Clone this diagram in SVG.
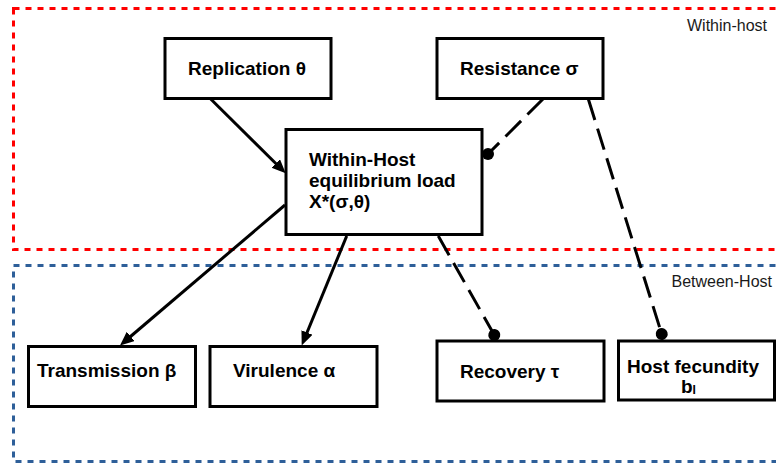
<svg xmlns="http://www.w3.org/2000/svg" width="776" height="463" viewBox="0 0 776 463">
<defs>
<style>
.zone{fill:none;stroke-width:3;stroke-dasharray:6,6}
.box{fill:#fff;stroke:#000;stroke-width:3}
.t{font-family:"Liberation Sans",Arial,sans-serif;font-weight:bold;font-size:19px;fill:#000}
.lbl{font-family:"Liberation Sans",Arial,sans-serif;font-size:16px;fill:#1a1a1a}
.solid{stroke:#000;stroke-width:3;fill:none;marker-end:url(#arrow)}
.dash{stroke:#000;stroke-width:3;fill:none;stroke-dasharray:22,9;marker-end:url(#dot)}
</style>
<marker id="arrow" markerUnits="userSpaceOnUse" markerWidth="16" markerHeight="14" refX="4" refY="6" orient="auto">
<path d="M0,0 L14,6 L0,12 Z" fill="#000"/>
</marker>
<marker id="dot" markerUnits="userSpaceOnUse" markerWidth="14" markerHeight="14" refX="7" refY="7" orient="auto">
<circle cx="7" cy="7" r="6" fill="#000"/>
</marker>
</defs>
<g id="zones">
<rect class="zone" x="13.5" y="8.5" width="800" height="241" stroke="#ff0000"/>
<text class="lbl" x="767" y="31" text-anchor="end">Within-host</text>
<rect class="zone" x="13.5" y="265.5" width="800" height="196" stroke="#2e5f99"/>
<text class="lbl" x="772" y="287" text-anchor="end">Between-Host</text>
</g>
<g id="connectors">
<path class="solid" d="M210.7,99 L278.6,166.3"/>
<path class="solid" d="M285,205 L127.6,339"/>
<path class="solid" d="M346.7,236 L305.5,336.2"/>
<path class="dash" d="M543,99 L488,154"/>
<path class="dash" d="M438.3,236 L494.3,335"/>
<path class="dash" d="M588.3,99 L661.7,334"/>
</g>
<g id="replication">
<rect class="box" x="165" y="38.5" width="166" height="60"/>
<text class="t" x="188" y="75">Replication θ</text>
</g>
<g id="resistance">
<rect class="box" x="437" y="38.5" width="166" height="60"/>
<text class="t" x="460" y="75">Resistance σ</text>
</g>
<g id="within-host-load">
<rect class="box" x="286" y="129.5" width="196" height="105"/>
<text class="t" x="309" y="166">Within-Host</text>
<text class="t" x="309" y="187">equilibrium load</text>
<text class="t" x="309" y="208">X*(σ,θ)</text>
</g>
<g id="transmission">
<rect class="box" x="28.5" y="346.5" width="167" height="60"/>
<text class="t" x="37" y="377">Transmission β</text>
</g>
<g id="virulence">
<rect class="box" x="210" y="346.5" width="167" height="60"/>
<text class="t" x="233" y="377">Virulence α</text>
</g>
<g id="recovery">
<rect class="box" x="437" y="341" width="167" height="60"/>
<text class="t" x="460" y="378">Recovery τ</text>
</g>
<g id="host-fecundity">
<rect class="box" x="618.5" y="341" width="156" height="59"/>
<text class="t" x="627" y="373">Host fecundity</text>
<text class="t" x="681" y="393">b<tspan font-size="12px" dy="1">I</tspan></text>
</g>
</svg>
